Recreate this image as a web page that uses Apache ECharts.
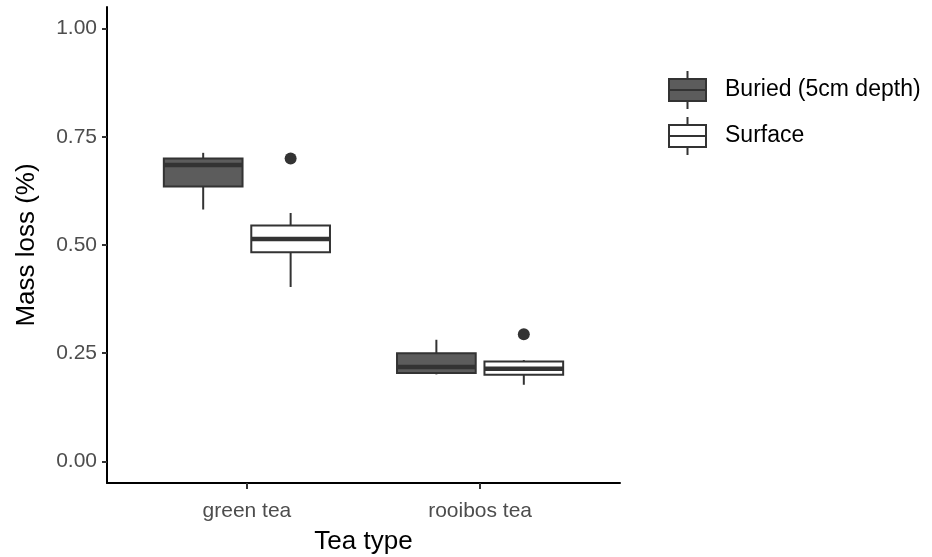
<!DOCTYPE html>
<html>
<head>
<meta charset="utf-8">
<title>Tea mass loss</title>
<script src="https://cdn.jsdelivr.net/npm/echarts@6/dist/echarts.min.js"></script>
<style>
  html, body { margin: 0; padding: 0; background: #ffffff; }
  #chart { width: 932px; height: 557px; }
</style>
</head>
<body>
<div id="chart"></div>
<script>
// Tea types on the x axis (placed at positions 1 and 2)
var categories = ['green tea', 'rooibos tea'];
var treatments = ['Buried (5cm depth)', 'Surface'];
var yTicks = [0, 0.25, 0.5, 0.75, 1];

// Box statistics per tea type: [lower whisker, Q1, median, Q3, upper whisker]
var buriedStats = [
  [0.582, 0.635, 0.685, 0.700, 0.713],
  [0.201, 0.204, 0.218, 0.250, 0.281]
];
var surfaceStats = [
  [0.403, 0.483, 0.514, 0.545, 0.574],
  [0.177, 0.200, 0.214, 0.231, 0.234]
];

// Outlying observations: [tea type index, value]
var buriedOutliers = [];
var surfaceOutliers = [
  [0, 0.700],
  [1, 0.294]
];

var FONT = "'Liberation Sans', Arial, Helvetica, sans-serif";
var EDGE = '#333333';
var FILLS = ['#5c5c5c', '#ffffff'];
var DODGE = 0.1875;     // centre offset of each box from its tea type
var BOX_W = 0.3375;     // box width in x-axis units

function boxData(stats, side) {
  return stats.map(function (s, i) {
    return [i + 1 + side * DODGE].concat(s);
  });
}
function outlierData(list, side) {
  return list.map(function (o) { return [o[0] + 1 + side * DODGE, o[1]]; });
}

function makeRenderer(fill) {
  return function (params, api) {
    var x = api.value(0);
    var pMin = api.coord([x, api.value(1)]);
    var pQ1 = api.coord([x, api.value(2)]);
    var pMed = api.coord([x, api.value(3)]);
    var pQ3 = api.coord([x, api.value(4)]);
    var pMax = api.coord([x, api.value(5)]);
    var w = api.size([BOX_W, 0])[0];
    var cx = pMed[0];
    var line = { stroke: EDGE, lineWidth: 2 };
    return {
      type: 'group',
      children: [
        { type: 'line', shape: { x1: cx, y1: pMax[1], x2: cx, y2: pQ3[1] }, style: line },
        { type: 'line', shape: { x1: cx, y1: pQ1[1], x2: cx, y2: pMin[1] }, style: line },
        { type: 'rect', shape: { x: cx - w / 2, y: pQ3[1], width: w, height: pQ1[1] - pQ3[1] },
          style: { fill: fill, stroke: EDGE, lineWidth: 2 } },
        { type: 'line', shape: { x1: cx - w / 2, y1: pMed[1], x2: cx + w / 2, y2: pMed[1] },
          style: { stroke: EDGE, lineWidth: 4.5 } }
      ]
    };
  };
}

// Legend key: box with median bar and whisker stubs
var KEY_ICON = 'path://M0,8L37,8L37,30L0,30Z M0,19L37,19 M18.5,0L18.5,8 M18.5,30L18.5,38';

var chart = echarts.init(document.getElementById('chart'), null, { renderer: 'canvas' });

chart.setOption({
  backgroundColor: '#ffffff',
  animation: false,
  textStyle: { fontFamily: FONT },
  grid: { left: 107, right: 312, top: 7, bottom: 74, outerBoundsMode: 'none', containLabel: false },
  legend: {
    orient: 'vertical',
    left: 663,
    top: 65,
    itemWidth: 37,
    itemHeight: 38,
    itemGap: 6,
    selectedMode: false,
    textStyle: { fontSize: 23, color: '#000000', fontFamily: FONT, padding: [0, 0, 0, 14] },
    data: treatments.map(function (name, i) {
      return { name: name, icon: KEY_ICON,
        itemStyle: { color: FILLS[i], borderColor: EDGE, borderWidth: 2 } };
    })
  },
  xAxis: {
    type: 'value',
    min: 0.4,
    max: 2.6,
    name: 'Tea type',
    nameLocation: 'middle',
    nameGap: 46,
    nameTextStyle: { fontSize: 26, color: '#000000', fontFamily: FONT },
    axisLine: { show: true, onZero: false, lineStyle: { color: '#000000', width: 2 } },
    axisTick: { show: true, customValues: [1, 2], length: 6, lineStyle: { color: EDGE, width: 2 } },
    axisLabel: {
      customValues: [1, 2],
      margin: 18,
      fontSize: 21,
      color: '#4d4d4d',
      formatter: function (v) { return categories[Math.round(v) - 1]; }
    },
    splitLine: { show: false }
  },
  yAxis: {
    type: 'value',
    min: -0.05,
    max: 1.05,
    name: 'Mass loss (%)',
    nameLocation: 'middle',
    nameGap: 67,
    nameTextStyle: { fontSize: 26, color: '#000000', fontFamily: FONT },
    axisLine: { show: true, onZero: false, lineStyle: { color: '#000000', width: 2 } },
    axisTick: { show: true, customValues: yTicks, length: 5, lineStyle: { color: EDGE, width: 2 } },
    axisLabel: {
      customValues: yTicks,
      margin: 10,
      fontSize: 21,
      color: '#4d4d4d',
      formatter: function (v) { return v.toFixed(2); }
    },
    splitLine: { show: false }
  },
  series: [
    {
      name: treatments[0], type: 'custom', renderItem: makeRenderer(FILLS[0]),
      itemStyle: { color: FILLS[0], borderColor: EDGE },
      encode: { x: 0, y: [1, 2, 3, 4, 5] },
      data: boxData(buriedStats, -1), z: 2
    },
    {
      name: treatments[1], type: 'custom', renderItem: makeRenderer(FILLS[1]),
      itemStyle: { color: FILLS[1], borderColor: EDGE },
      encode: { x: 0, y: [1, 2, 3, 4, 5] },
      data: boxData(surfaceStats, 1), z: 2
    },
    {
      name: treatments[0], type: 'scatter', symbol: 'circle', symbolSize: 12,
      itemStyle: { color: EDGE, opacity: 1 }, data: outlierData(buriedOutliers, -1), z: 3
    },
    {
      name: treatments[1], type: 'scatter', symbol: 'circle', symbolSize: 12,
      itemStyle: { color: EDGE, opacity: 1 }, data: outlierData(surfaceOutliers, 1), z: 3
    }
  ]
});
</script>
</body>
</html>
